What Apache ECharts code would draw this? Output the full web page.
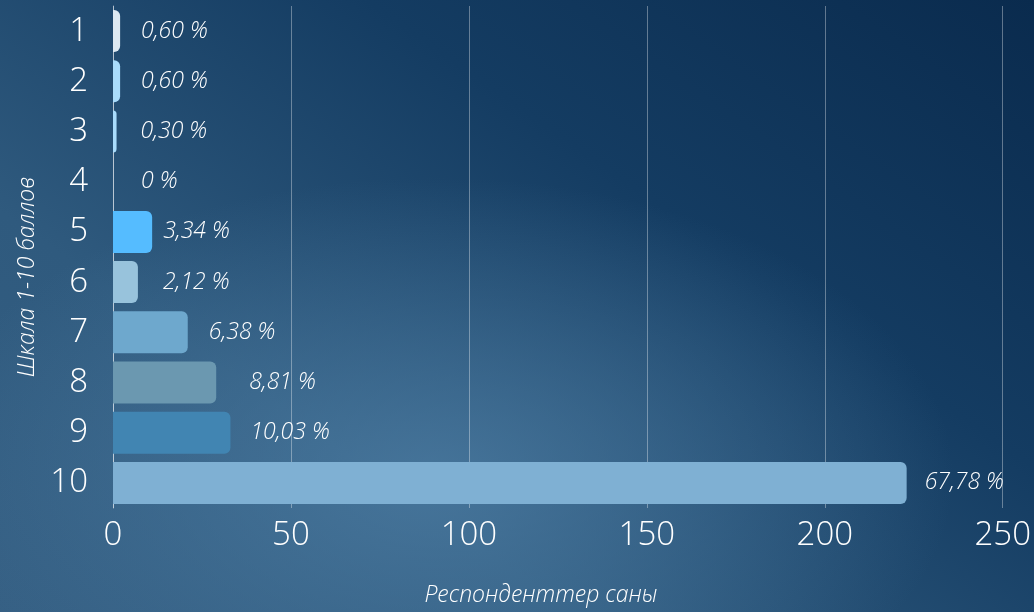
<!DOCTYPE html>
<html>
<head>
<meta charset="utf-8">
<script src="https://cdn.jsdelivr.net/npm/echarts@6/dist/echarts.min.js"></script>
<style>
  html, body { margin: 0; padding: 0; }
  #chart {
    width: 1034px;
    height: 612px;
    background:
      radial-gradient(ellipse 520px 300px at 42% 78%, rgba(78, 126, 164, 0.75), rgba(78, 126, 164, 0) 100%),
      linear-gradient(215deg, #0a2b4e 0%, #143c62 35%, #2f5a7e 70%, #355f83 100%);
  }
</style>
</head>
<body>
<div id="chart"></div>
<script>
// scale points 1..10, top to bottom
const scores = ['1', '2', '3', '4', '5', '6', '7', '8', '9', '10'];
// number of respondents per score
const respondents = [2, 2, 1, 0, 11, 7, 21, 29, 33, 223];
// share labels as printed next to the bars
const shares = ['0,60', '0,60', '0,30', '0', '3,34', '2,12', '6,38', '8,81', '10,03', '67,78'];

const barColors = ['#dde9f2', '#a9dcfc', '#a9dcfc', '#a9dcfc', '#55bcff',
                   '#98c3dc', '#6ea8cd', '#6b98b0', '#4185b2', '#7fb0d3'];
const labelGap = [21, 21, 24, 28, 11, 25, 21, 33, 20, 18];

const font = '"Open Sans", "Noto Sans", sans-serif';

const chart = echarts.init(document.getElementById('chart'), null, {renderer: 'canvas'});

const option = {
    backgroundColor: 'transparent',
    grid: {left: 113, right: 31, top: 6, bottom: 103, containLabel: false},
    xAxis: {
        type: 'value',
        min: 0,
        max: 250,
        interval: 50,
        name: 'Респонденттер саны',
        nameLocation: 'middle',
        nameGap: 76,
        nameTextStyle: {
            color: '#ffffff', fontFamily: font, fontSize: 23, fontStyle: 'italic',
            fontWeight: 300, padding: [0, 34, 0, 0]
        },
        axisLine: {show: false},
        axisTick: {show: false},
        axisLabel: {color: '#ffffff', fontFamily: font, fontSize: 33, fontWeight: 300, margin: 11},
        splitLine: {lineStyle: {color: 'rgba(255,255,255,0.35)', width: 1}}
    },
    yAxis: {
        type: 'category',
        inverse: true,
        data: scores,
        name: 'Шкала 1-10 баллов',
        nameLocation: 'middle',
        nameGap: 74,
        nameTextStyle: {
            color: '#ffffff', fontFamily: font, fontSize: 23, fontStyle: 'italic',
            fontWeight: 300, padding: [0, 40, 0, 0]
        },
        axisLine: {lineStyle: {color: 'rgba(255,255,255,0.5)', width: 1}},
        axisTick: {show: false},
        axisLabel: {color: '#ffffff', fontFamily: font, fontSize: 33, fontWeight: 300, margin: 25}
    },
    series: [{
        type: 'bar',
        barWidth: 42,
        data: respondents.map((v, i) => ({
            value: v,
            itemStyle: {color: barColors[i], borderRadius: [0, 6, 6, 0]},
            label: {distance: labelGap[i]}
        })),
        label: {
            show: true,
            position: 'right',
            color: '#ffffff',
            fontFamily: font,
            fontSize: 23,
            fontStyle: 'italic',
            fontWeight: 300,
            formatter: (p) => shares[p.dataIndex] + ' %'
        }
    }]
};

chart.setOption(option);
</script>
</body>
</html>
